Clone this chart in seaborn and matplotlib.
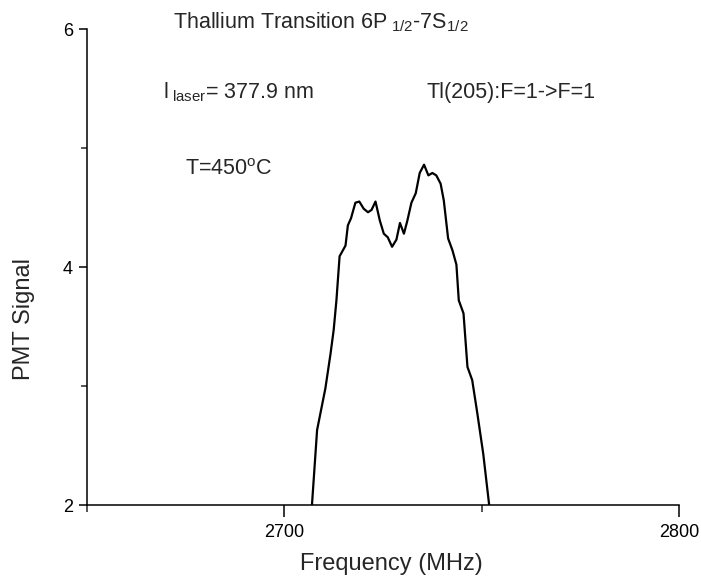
import matplotlib
matplotlib.use("Agg")
import matplotlib.pyplot as plt
from matplotlib.ticker import MultipleLocator
import seaborn as sns
import pandas as pd

frequency = [2707.0, 2708.3, 2710.4, 2711.7, 2712.5, 2713.2, 2714.0, 2715.5, 2716.1, 2716.9,
             2718.0, 2719.0, 2720.1, 2721.2, 2722.1, 2723.1, 2724.2, 2725.2, 2726.2, 2727.3,
             2728.4, 2729.3, 2730.3, 2731.1, 2732.2, 2733.3, 2734.3, 2735.4, 2736.5, 2737.5,
             2738.5, 2739.6, 2740.4, 2741.5, 2742.6, 2743.6, 2744.2, 2745.4, 2746.4, 2747.6,
             2748.9, 2750.4, 2751.9]
signal = [2.00, 2.63, 2.98, 3.27, 3.47, 3.72, 4.09, 4.18, 4.35, 4.41,
          4.54, 4.55, 4.49, 4.46, 4.48, 4.55, 4.39, 4.28, 4.25, 4.17,
          4.23, 4.37, 4.28, 4.38, 4.54, 4.62, 4.79, 4.86, 4.77, 4.79,
          4.77, 4.70, 4.56, 4.24, 4.14, 4.02, 3.72, 3.61, 3.16, 3.05,
          2.77, 2.43, 2.00]
x_ticks = [2700, 2800]
y_ticks = [2, 4, 6]

title_text = "Thallium Transition 6P$_{\\ 1/2}$-7S$_{1/2}$"
laser_text = "l$_{\\ \\mathrm{laser}}$= 377.9 nm"
iso_text = "Tl(205):F=1->F=1"
temp_text = "T=450$^{\\mathrm{o}}$C"

sns.set_theme(style="ticks")
plt.rcParams['font.family'] = ['Liberation Sans', 'DejaVu Sans']
plt.rcParams['mathtext.fontset'] = 'custom'
plt.rcParams['mathtext.rm'] = 'Liberation Sans'
plt.rcParams['mathtext.it'] = 'Liberation Sans'

df = pd.DataFrame({"Frequency": frequency, "Signal": signal})

fig = plt.figure(figsize=(7.01, 5.76), dpi=100)
ax = fig.add_axes([87/701, 1 - 505/576, 592/701, 476/576])
sns.lineplot(data=df, x="Frequency", y="Signal", sort=False, estimator=None,
             color="black", linewidth=1.6, ax=ax)
ax.set_xlim(2650, 2800)
ax.set_ylim(2, 6)
ax.set_xticks(x_ticks)
ax.set_yticks(y_ticks)
ax.xaxis.set_minor_locator(MultipleLocator(50))
ax.yaxis.set_minor_locator(MultipleLocator(1))
for s in ["top", "right"]:
    ax.spines[s].set_visible(False)
for s in ["left", "bottom"]:
    ax.spines[s].set_linewidth(1.1)
    ax.spines[s].set_color("black")
ax.tick_params(axis="x", which="major", length=8.5, width=1.1, labelsize=13, pad=5, colors="black")
ax.tick_params(axis="x", which="minor", length=5, width=1.1)
ax.tick_params(axis="y", which="major", length=6, width=1.1, labelsize=13, pad=4, colors="black")
ax.tick_params(axis="y", which="minor", length=4.5, width=1.1)
ax.set_xlabel("Frequency (MHz)", fontsize=17)
ax.set_ylabel("PMT Signal", fontsize=17)
ax.xaxis.set_label_coords(0.514, -0.1)
ax.yaxis.set_label_coords(-0.088, 0.39)

ax.text(0.145, 1.002, title_text, transform=ax.transAxes, fontsize=15.5, va="baseline", ha="left", clip_on=False)
ax.text(0.128, 0.855, laser_text, transform=ax.transAxes, fontsize=15.5, va="baseline", ha="left")
ax.text(0.574, 0.855, iso_text, transform=ax.transAxes, fontsize=15.5, va="baseline", ha="left")
ax.text(0.166, 0.693, temp_text, transform=ax.transAxes, fontsize=15.5, va="baseline", ha="left")

fig.savefig("out.png", dpi=100)
